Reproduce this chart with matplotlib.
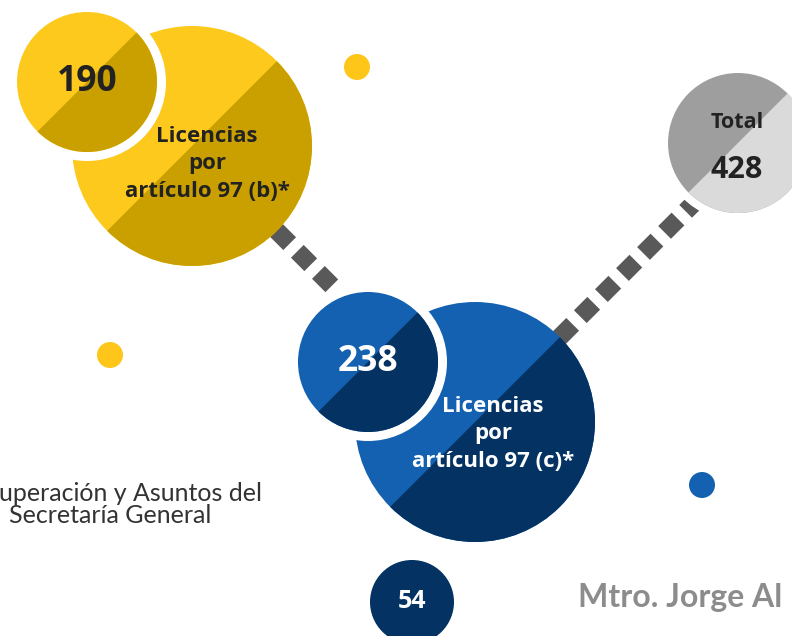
import matplotlib
matplotlib.use("Agg")
import matplotlib.pyplot as plt
from matplotlib.patches import Circle, Wedge

plt.rcParams['font.family'] = ['Open Sans', 'DejaVu Sans']

# datos
valores = [190, 238]
etiquetas = ["Licencias\npor\nartículo 97 (b)*", "Licencias\npor\nartículo 97 (c)*"]
total = 428
total_etiqueta = "Total"
extra = 54
firma = "Mtro. Jorge Al"
pie = ["uperación y Asuntos del", "Secretaría General"]

# posiciones (pixeles, y hacia abajo)
centro_grande = [(192, 146), (475, 422)]
centro_chico = [(87, 82), (368, 362)]
centro_total = (738, 143)
centro_extra = (412, 602)
puntos = [(357, 67), (110, 355), (702, 485)]
r_grande, r_chico, r_total, r_extra, r_punto = 120, 70, 70, 42, 13

claros = ["#FDC91D", "#1461B1"]
oscuros = ["#C9A000", "#033263"]
color_txt = ["#222222", "white"]
puntos_col = ["#FFC61A", "#FFC61A", "#1461B1"]
gris_osc, gris_cla = "#9E9E9E", "#DADADA"


def circulo_partido(ax, c, r, claro, oscuro, z):
    ax.add_patch(Circle(c, r, color=claro, zorder=z, lw=0))
    ax.add_patch(Wedge(c, r, -45, 135, color=oscuro, zorder=z, lw=0))


fig = plt.figure(figsize=(7.92, 6.36), dpi=100)
ax = fig.add_axes([0, 0, 1, 1])
ax.set_xlim(0, 792)
ax.set_ylim(636, 0)
ax.set_aspect('equal')
ax.axis('off')

# conectores punteados
for (x0, y0), (x1, y1) in [((192, 146), (350, 304)), ((475, 422), (700, 197))]:
    ax.plot([x0, x1], [y0, y1], color="#595959", lw=13, solid_capstyle='butt',
            dash_capstyle='butt', dashes=(1.05, 0.6), zorder=1)

for i in range(2):
    circulo_partido(ax, centro_grande[i], r_grande, claros[i], oscuros[i], 2)
    ax.add_patch(Circle(centro_chico[i], r_chico + 9, color="white", zorder=3, lw=0))
    circulo_partido(ax, centro_chico[i], r_chico, claros[i], oscuros[i], 4)
    cx, cy = centro_chico[i]
    ax.text(cx, cy, str(valores[i]), ha='center', va='center', fontsize=25.5,
            fontweight='bold', color=color_txt[i], zorder=5)

ax.text(207, 164, etiquetas[0], ha='center', va='center', fontsize=16,
        fontweight='bold', color=color_txt[0], linespacing=1.4, zorder=5)
ax.text(493, 434, etiquetas[1], ha='center', va='center', fontsize=16,
        fontweight='bold', color=color_txt[1], linespacing=1.4, zorder=5)

# total
ax.add_patch(Circle(centro_total, r_total + 8, color="white", zorder=3, lw=0))
ax.add_patch(Circle(centro_total, r_total, color=gris_osc, zorder=4, lw=0))
ax.add_patch(Wedge(centro_total, r_total, -45, 135, color=gris_cla, zorder=4, lw=0))
ax.text(737, 122, total_etiqueta, ha='center', va='center', fontsize=15.5,
        fontweight='bold', color="#222222", zorder=5)
ax.text(737, 170, str(total), ha='center', va='center', fontsize=22,
        fontweight='bold', color="#222222", zorder=5)

# puntos decorativos
for p, col in zip(puntos, puntos_col):
    ax.add_patch(Circle(p, r_punto, color=col, zorder=2, lw=0))

# 54
ax.add_patch(Circle(centro_extra, r_extra, color="#033263", zorder=2, lw=0))
ax.text(centro_extra[0], centro_extra[1], str(extra), ha='center', va='center',
        fontsize=18, fontweight='bold', color="white", zorder=5)

ax.text(578, 597, firma, ha='left', va='center', fontsize=23, fontweight='bold',
        color="#8C8C8C", family=['Lato', 'DejaVu Sans'])

ax.text(-1, 501, pie[0], ha='left', va='baseline', fontsize=18, color="#333333",
        family=['Lato', 'DejaVu Sans'])
ax.text(9, 523, pie[1], ha='left', va='baseline', fontsize=18, color="#333333",
        family=['Lato', 'DejaVu Sans'])

fig.savefig("out.png", dpi=100)
